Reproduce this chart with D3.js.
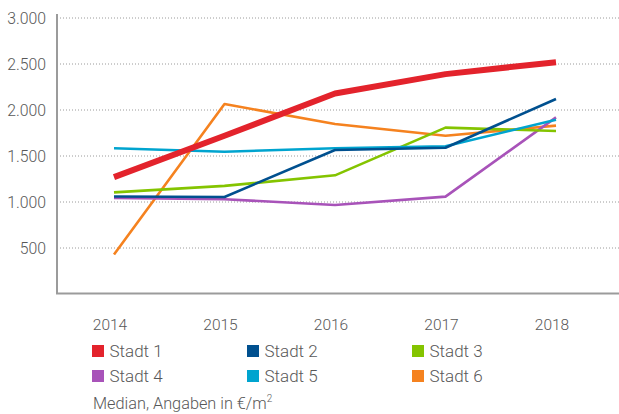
<!DOCTYPE html>
<html><head><meta charset="utf-8">
<script src="https://cdn.jsdelivr.net/npm/d3@7"></script>
<style>
html,body{margin:0;padding:0;background:#fff;}
svg text{font-family:Roboto,"Liberation Sans",sans-serif;font-weight:300;fill:#585858;}
</style></head>
<body>
<svg id="chart" width="619" height="414"></svg>
<script>
const years = ["2014","2015","2016","2017","2018"];
const seriesNames = ["Stadt 1","Stadt 2","Stadt 3","Stadt 4","Stadt 5","Stadt 6"];
const colors = ["#e3232c","#00508f","#84c400","#a853b9","#00a4cf","#f5821f"];
const stadt1 = [1270, 1720, 2180, 2390, 2520];
const stadt2 = [1060, 1055, 1565, 1590, 2120];
const stadt3 = [1105, 1175, 1290, 1808, 1772];
const stadt4 = [1043, 1030, 967, 1058, 1920];
const stadt5 = [1584, 1547, 1584, 1605, 1895];
const stadt6 = [430, 2065, 1848, 1720, 1830];
const yTicks = [500, 1000, 1500, 2000, 2500, 3000];
const yTickLabels = ["500","1.000","1.500","2.000","2.500","3.000"];
const footnote = "Median, Angaben in €/m";

const allSeries = [stadt1, stadt2, stadt3, stadt4, stadt5, stadt6];
const svg = d3.select("#chart");
const x = d3.scalePoint().domain(years).range([114, 556]);
const y = d3.scaleLinear().domain([0, 3000]).range([294, 18]);

// grid
svg.append("g").selectAll("line").data(yTicks).join("line")
  .attr("x1", 57).attr("x2", 619)
  .attr("y1", d => y(d)).attr("y2", d => y(d))
  .attr("stroke", "#9a9a9a").attr("stroke-width", 1)
  .attr("stroke-dasharray", "1,2");

// y labels
svg.append("g").selectAll("text").data(yTicks).join("text")
  .attr("x", 46).attr("y", d => y(d) + 6)
  .attr("text-anchor", "end").style("font-size", "15.8px")
  .text((d, i) => yTickLabels[i]);

// axes lines
svg.append("line").attr("x1", 57).attr("x2", 57).attr("y1", 14).attr("y2", 294)
  .attr("stroke", "#9b9b9b").attr("stroke-width", 2);
svg.append("line").attr("x1", 56).attr("x2", 619).attr("y1", 293.5).attr("y2", 293.5)
  .attr("stroke", "#9b9b9b").attr("stroke-width", 2);

// x labels
svg.append("g").selectAll("text").data(years).join("text")
  .attr("x", d => x(d) - 4).attr("y", 330)
  .attr("text-anchor", "middle").style("font-size", "15.5px")
  .text(d => d);

// lines (red on top)
const line = d3.line().x((d, i) => x(years[i])).y(d => y(d));
const order = [5, 3, 2, 4, 1, 0];
svg.append("g").selectAll("path").data(order).join("path")
  .attr("d", i => line(allSeries[i]))
  .attr("fill", "none")
  .attr("stroke", i => colors[i])
  .attr("stroke-width", i => i === 0 ? 6 : 2.6)
  .attr("stroke-linejoin", "round");

// legend
const legX = [92, 247, 412];
const legY = [345, 370];
const leg = svg.append("g").selectAll("g").data(seriesNames).join("g")
  .attr("transform", (d, i) => `translate(${legX[i % 3]},${legY[Math.floor(i / 3)]})`);
leg.append("rect").attr("width", 12).attr("height", 12).attr("fill", (d, i) => colors[i]);
leg.append("text").attr("x", 17.5).attr("y", 12).style("font-size", "17px").text(d => d);

// footnote
const fn = svg.append("text").attr("x", 93).attr("y", 409).style("font-size", "16.3px");
fn.append("tspan").text(footnote);
fn.append("tspan").attr("dy", -7).style("font-size", "10px").text("2");
</script>
</body></html>
